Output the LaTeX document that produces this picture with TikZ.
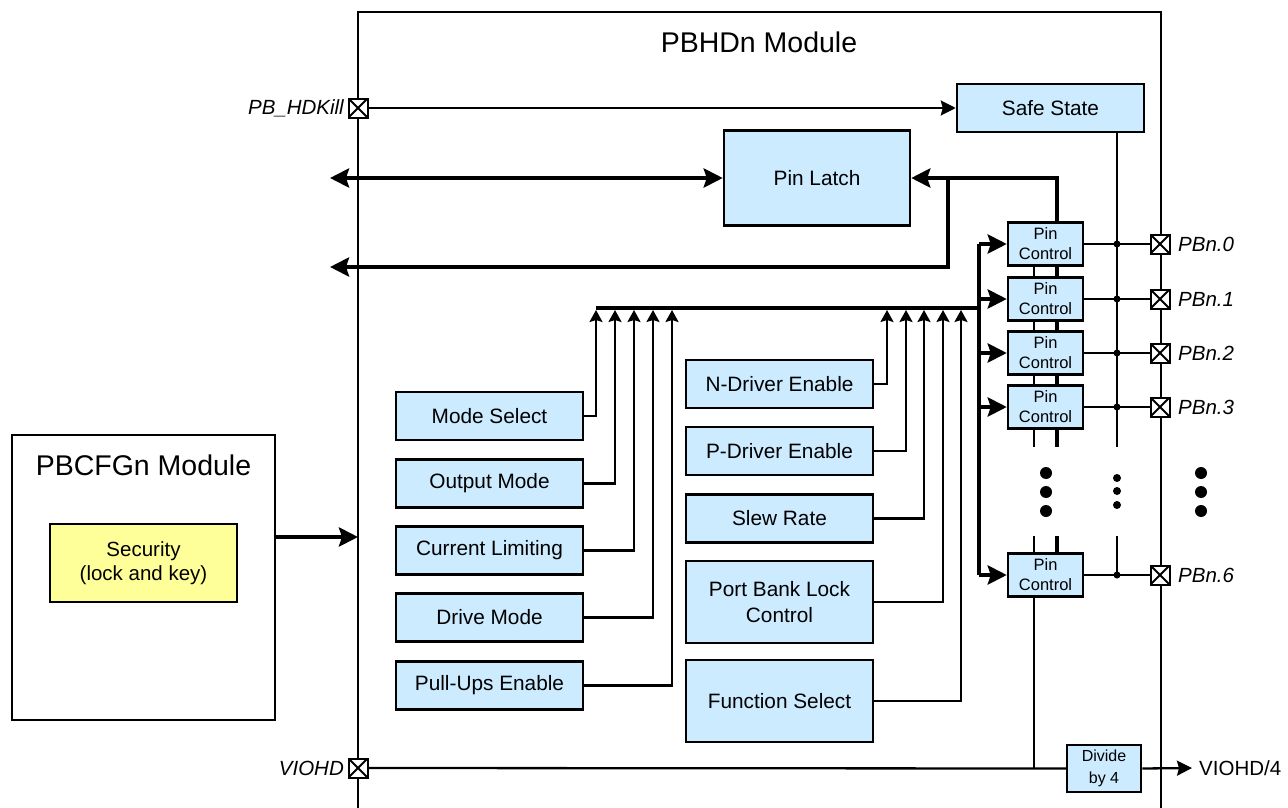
\documentclass[tikz,border=0pt]{standalone}
\usepackage{fontspec}
\setmainfont{Liberation Sans}
\usetikzlibrary{arrows.meta}
\definecolor{bluefill}{HTML}{CCEBFF}
\definecolor{yellowfill}{HTML}{FFFF99}
\begin{document}
\begin{tikzpicture}[x=1pt,y=-1pt,
  blk/.style={draw, line width=2.5pt, fill=bluefill, inner sep=0pt, align=center, font=\fontsize{20.8}{26}\selectfont},
  pcblk/.style={blk, minimum width=75pt, minimum height=43pt, font=\fontsize{16.5}{20}\selectfont},
  pinbox/.style={draw, line width=2pt, fill=white, minimum size=19pt, inner sep=0pt,
    path picture={\draw[line width=2pt] (path picture bounding box.north west) -- (path picture bounding box.south east)
      (path picture bounding box.north east) -- (path picture bounding box.south west);}},
  thinline/.style={line width=2.3pt},
  thickline/.style={line width=4.3pt},
  bigtip/.style={-{Stealth[length=19pt,width=19pt,inset=3pt]}},
  smalltip/.style={-{Stealth[length=15pt,width=15pt,inset=2pt]}},
  uptip/.style={-{Stealth[length=12pt,width=13pt,inset=2pt]}},
  lbl/.style={font=\fontsize{20.5}{24}\selectfont\itshape, inner sep=0pt},
]
\useasboundingbox (0,0) rectangle (1288,808);

% main module outline
\draw[line width=2.3pt] (358,810) -- (358,12) -- (1161,12) -- (1161,810);
\node[font=\fontsize{28.5}{32}\selectfont] (maintitle) at (759,42) {PBHDn Module};

% PBCFGn module
\node[draw, line width=2.3pt, fill=white, minimum width=263pt, minimum height=285pt] (cfg) at (143.5,577.5) {};
\node[font=\fontsize{28.5}{32}\selectfont] (cfgtitle) at (143.5,465) {PBCFGn Module};
\node[blk, fill=yellowfill, minimum width=187pt, minimum height=78pt, font=\fontsize{20.5}{24}\selectfont] (sec) at (143.5,563) {Security\\(lock and key)};
\coordinate (mainL) at (358,537);
\draw[thickline, bigtip] (mainL -| cfg.east) -- (mainL);

% blocks
\node[blk, minimum width=187pt, minimum height=48pt] (safe) at (1050.5,108) {Safe State};
\node[blk, minimum width=186pt, minimum height=95pt] (latch) at (817,178) {Pin Latch};

\node[blk, minimum width=187pt, minimum height=48pt] (mode) at (489.5,416) {Mode Select};
\node[blk, minimum width=187pt, minimum height=48pt] (outm) at (489.5,483.5) {Output Mode};
\node[blk, minimum width=187pt, minimum height=48pt] (curl) at (489.5,550.5) {Current Limiting};
\node[blk, minimum width=187pt, minimum height=48pt] (drvm) at (489.5,617.5) {Drive Mode};
\node[blk, minimum width=187pt, minimum height=48pt] (pull) at (489.5,685.5) {Pull-Ups Enable};

\node[blk, minimum width=187pt, minimum height=48pt] (ndrv) at (779.5,384) {N-Driver Enable};
\node[blk, minimum width=187pt, minimum height=48pt] (pdrv) at (779.5,451) {P-Driver Enable};
\node[blk, minimum width=187pt, minimum height=48pt] (slew) at (779.5,518.5) {Slew Rate};
\node[blk, minimum width=187pt, minimum height=82pt] (lock) at (779.5,602) {Port Bank Lock\\Control};
\node[blk, minimum width=187pt, minimum height=82pt] (func) at (779.5,701) {Function Select};

\node[pcblk] (pc0) at (1045.5,244) {Pin\\Control};
\node[pcblk] (pc1) at (1045.5,299) {Pin\\Control};
\node[pcblk] (pc2) at (1045.5,353) {Pin\\Control};
\node[pcblk] (pc3) at (1045.5,407) {Pin\\Control};
\node[pcblk] (pc6) at (1045.5,575) {Pin\\Control};

\node[blk, minimum width=74pt, minimum height=47pt, font=\fontsize{16}{22}\selectfont] (div) at (1104,768.5) {Divide\\by 4};

% pins
\node[pinbox] (pk) at (358,108) {};
\node[lbl, anchor=east] (pkl) at (344,108) {PB\_HDKill};
\node[pinbox] (vio) at (358,768) {};
\node[lbl, anchor=east] (viol) at (344,768) {VIOHD};
\node[pinbox] (p0) at (1160,244) {};
\node[pinbox] (p1) at (1160,299) {};
\node[pinbox] (p2) at (1160,353) {};
\node[pinbox] (p3) at (1160,407) {};
\node[pinbox] (p6) at (1160,575) {};
\node[lbl, anchor=west] (p0l) at (1178,244) {PBn.0};
\node[lbl, anchor=west] (p1l) at (1178,299) {PBn.1};
\node[lbl, anchor=west] (p2l) at (1178,353) {PBn.2};
\node[lbl, anchor=west] (p3l) at (1178,407) {PBn.3};
\node[lbl, anchor=west] (p6l) at (1178,575) {PBn.6};
\node[font=\fontsize{20.5}{24}\selectfont, inner sep=0pt, anchor=west] (v4) at (1199,768) {VIOHD/4};
\coordinate (v4tip) at (1192,768);

% kill line
\draw[thinline, smalltip] (pk.east) -- (safe.west);

% latch connections
\coordinate (lbL) at (330,178);
\draw[thickline, {Stealth[length=19pt,width=19pt,inset=3pt]}-{Stealth[length=19pt,width=19pt,inset=3pt]}] (lbL) -- (latch.west);
\coordinate (thk) at (1057,178);
\coordinate (thn) at (1034,178);
\draw[thickline, bigtip] (pc0.north -| thk) -- (thk) -- (latch.east);
\coordinate (brT) at (948,178);
\coordinate (brB) at (330,267);
\draw[thickline, bigtip] (brT) |- (brB);

% vertical links between pin controls
\foreach \a/\b in {pc0/pc1, pc1/pc2, pc2/pc3} {
  \draw[thinline] (\a.south -| thn) -- (\b.north -| thn);
  \draw[thickline] (\a.south -| thk) -- (\b.north -| thk);
}
\coordinate (g1) at (1034,447);
\coordinate (g2) at (1057,447);
\coordinate (g3) at (1034,536);
\coordinate (g4) at (1057,536);
\draw[thinline] (pc3.south -| g1) -- (g1);
\draw[thickline] (pc3.south -| g2) -- (g2);
\draw[thinline] (g3) -- (pc6.north -| g3);
\draw[thickline] (g4) -- (pc6.north -| g4);
\draw[thinline] (pc6.south -| g3) -- (g3 |- vio.east);

% VIOHD
\draw[thinline] (vio.east) -- (div.west);
\draw[thinline, smalltip] (div.east) -- (v4tip);

% safe state vertical
\coordinate (s1) at (1117,447);
\coordinate (s2) at (1117,536);
\draw[thinline] (safe.south -| s1) -- (s1);
\draw[thinline] (s2) -- (s2 |- p6.west);

% pin control outputs
\foreach \c/\p in {pc0/p0, pc1/p1, pc2/p2, pc3/p3, pc6/p6} {
  \draw[thinline] (\c.east) -- (\p.west);
  \fill (s1 |- \p.west) circle (3.5pt);
}
% redraw pins on top
\foreach \y in {108,768} { \node[pinbox] at (358,\y) {}; }
\foreach \y in {244,299,353,407,575} { \node[pinbox] at (1160,\y) {}; }

% bus
\coordinate (bt) at (979,244);
\coordinate (bb) at (979,575);
\draw[thickline] (bt) -- (bb);
\foreach \c in {pc0,pc1,pc2,pc3,pc6} {
  \draw[thickline, bigtip] (\c.west -| bt) -- (\c.west);
}
\coordinate (busL) at (596,308);
\draw[thickline] (busL) -- (busL -| bt);

% up arrows
\coordinate (a1) at (596,310);
\coordinate (a2) at (615,310);
\coordinate (a3) at (634,310);
\coordinate (a4) at (653,310);
\coordinate (a5) at (672,310);
\coordinate (b1) at (887,310);
\coordinate (b2) at (906,310);
\coordinate (b3) at (924,310);
\coordinate (b4) at (943,310);
\coordinate (b5) at (961,310);
\draw[thinline, uptip] (mode.east) -| (a1);
\draw[thinline, uptip] (outm.east) -| (a2);
\draw[thinline, uptip] (curl.east) -| (a3);
\draw[thinline, uptip] (drvm.east) -| (a4);
\draw[thinline, uptip] (pull.east) -| (a5);
\draw[thinline, uptip] (ndrv.east) -| (b1);
\draw[thinline, uptip] (pdrv.east) -| (b2);
\draw[thinline, uptip] (slew.east) -| (b3);
\draw[thinline, uptip] (lock.east) -| (b4);
\draw[thinline, uptip] (func.east) -| (b5);

% ellipsis dots
\foreach \y in {473,492,511} {
  \fill (1046,\y) circle (6pt);
  \fill (1201,\y) circle (6pt);
}
\foreach \y in {478,491,505} { \fill (1117,\y) circle (4pt); }
\end{tikzpicture}
\end{document}
